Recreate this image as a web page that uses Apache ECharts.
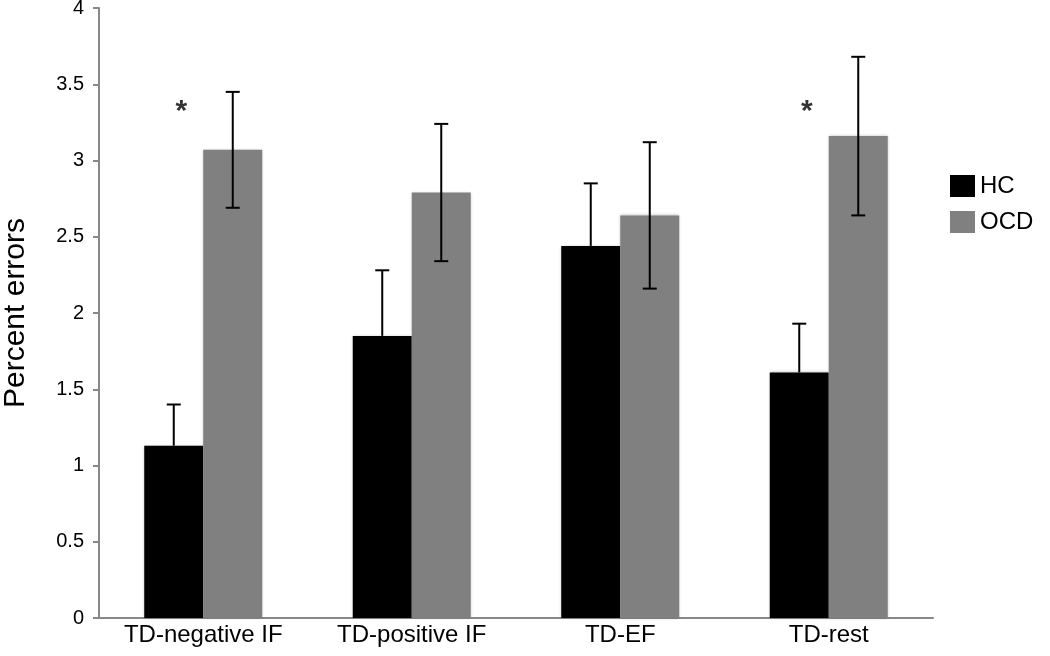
<!DOCTYPE html>
<html>
<head>
<meta charset="utf-8">
<script src="https://cdn.jsdelivr.net/npm/echarts@6/dist/echarts.min.js"></script>
<style>
html,body{margin:0;padding:0;background:#fff;}
#chart{width:1050px;height:656px;}
</style>
</head>
<body>
<div id="chart"></div>
<script>
const categories = ['TD-negative IF', 'TD-positive IF', 'TD-EF', 'TD-rest'];
const hcValues = [1.13, 1.85, 2.44, 1.61];
const hcErrors = [0.27, 0.43, 0.41, 0.32];
const ocdValues = [3.07, 2.79, 2.64, 3.16];
const ocdErrors = [0.38, 0.45, 0.48, 0.52];
const significance = ['*', '', '', '*'];
const significanceY = 3.33;
const yTicks = [0, 0.5, 1, 1.5, 2, 2.5, 3, 3.5, 4];

const BAR_W = 59;
const FONT = '"Liberation Sans", Arial, sans-serif';

function errorRender(offset, twoSided) {
  return function (params, api) {
    const idx = api.value(0), mean = api.value(1), err = api.value(2);
    const top = api.coord([idx, mean + err]);
    const bot = api.coord([idx, twoSided ? mean - err : mean]);
    const x = top[0] + offset;
    const cap = 7;
    const style = { stroke: '#000', lineWidth: 2 };
    const children = [
      { type: 'line', shape: { x1: x, y1: top[1], x2: x, y2: bot[1] }, style },
      { type: 'line', shape: { x1: x - cap, y1: top[1], x2: x + cap, y2: top[1] }, style }
    ];
    if (twoSided) {
      children.push({ type: 'line', shape: { x1: x - cap, y1: bot[1], x2: x + cap, y2: bot[1] }, style });
    }
    return { type: 'group', children };
  };
}

const chart = echarts.init(document.getElementById('chart'));
chart.setOption({
  animation: false,
  backgroundColor: '#fff',
  grid: { left: 99, right: 117, top: 8, bottom: 38, containLabel: false, outerBoundsMode: 'none' },
  legend: {
    orient: 'vertical',
    left: 945, top: 169,
    itemWidth: 25, itemHeight: 22, itemGap: 12,
    icon: 'rect',
    textStyle: { fontFamily: FONT, fontSize: 24, color: '#000' },
    data: ['HC', 'OCD']
  },
  xAxis: {
    type: 'category',
    data: categories,
    axisLine: { lineStyle: { color: '#888', width: 2 } },
    axisTick: { show: false },
    axisLabel: { fontFamily: FONT, fontSize: 24, color: '#000', margin: 5 }
  },
  yAxis: {
    type: 'value',
    min: 0, max: 4, interval: 0.5,
    name: 'Percent errors',
    nameLocation: 'middle',
    nameGap: 68,
    nameTextStyle: { fontFamily: FONT, fontSize: 30, color: '#000' },
    axisLine: { show: true, lineStyle: { color: '#888', width: 2 } },
    axisTick: { show: true, length: 6, lineStyle: { color: '#888', width: 2 } },
    splitLine: { show: false },
    axisLabel: {
      fontFamily: FONT, fontSize: 20, color: '#000', margin: 15,
      formatter: function (v) { return yTicks.indexOf(v) >= 0 ? String(v) : ''; }
    }
  },
  series: [
    {
      name: 'HC', type: 'bar', data: hcValues, barWidth: BAR_W, barGap: '0%',
      itemStyle: { color: '#000', shadowColor: 'rgba(0,0,0,0.25)', shadowBlur: 3 }
    },
    {
      name: 'OCD', type: 'bar', data: ocdValues, barWidth: BAR_W, barGap: '0%',
      itemStyle: { color: '#808080', shadowColor: 'rgba(0,0,0,0.25)', shadowBlur: 3 }
    },
    {
      type: 'custom', name: 'HC err', renderItem: errorRender(-BAR_W / 2, false),
      data: hcValues.map((v, i) => [i, v, hcErrors[i]]), z: 5, silent: true
    },
    {
      type: 'custom', name: 'OCD err', renderItem: errorRender(BAR_W / 2, true),
      data: ocdValues.map((v, i) => [i, v, ocdErrors[i]]), z: 5, silent: true
    },
    {
      type: 'scatter', name: 'sig', symbolSize: 0, silent: true,
      data: significance.map((s, i) => ({ value: [i, significanceY], label: { show: s !== '', formatter: s } })),
      label: { position: 'inside', offset: [-22, 2], fontFamily: FONT, fontSize: 30, fontWeight: 'bold', color: '#000' }
    }
  ]
});
</script>
</body>
</html>
